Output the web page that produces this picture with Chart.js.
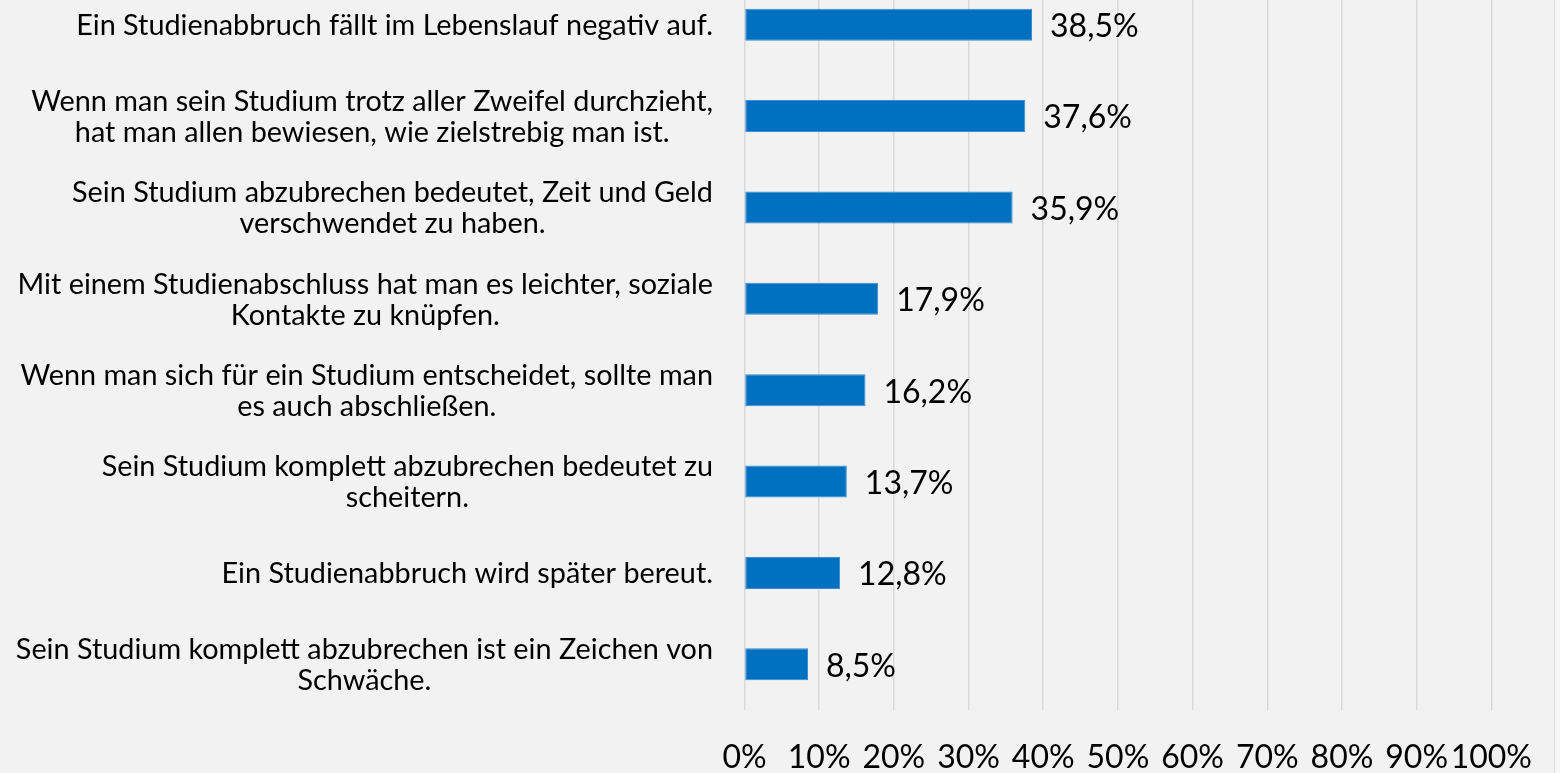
<!DOCTYPE html>
<html>
<head>
<meta charset="utf-8">
<script src="https://cdn.jsdelivr.net/npm/chart.js@4.4.0/dist/chart.umd.min.js"></script>
<style>
  html, body { margin: 0; padding: 0; background: #f2f2f2; overflow: hidden; width: 1560px; height: 773px; }
  #chart { position: absolute; left: 0; top: -21px; }
</style>
</head>
<body>
<canvas id="chart" width="1560" height="794"></canvas>
<script>
// Aussagen (Kategorien), jeweils mit Zeilenumbruch wie im Original
const categories = [
  ['Ein Studienabbruch fällt im Lebenslauf negativ auf.'],
  ['Wenn man sein Studium trotz aller Zweifel durchzieht,', 'hat man allen bewiesen, wie zielstrebig man ist.'],
  ['Sein Studium abzubrechen bedeutet, Zeit und Geld', 'verschwendet zu haben.'],
  ['Mit einem Studienabschluss hat man es leichter, soziale', 'Kontakte zu knüpfen.'],
  ['Wenn man sich für ein Studium entscheidet, sollte man', 'es auch abschließen.'],
  ['Sein Studium komplett abzubrechen bedeutet zu', 'scheitern.'],
  ['Ein Studienabbruch wird später bereut.'],
  ['Sein Studium komplett abzubrechen ist ein Zeichen von', 'Schwäche.']
];
const values = [38.5, 37.6, 35.9, 17.9, 16.2, 13.7, 12.8, 8.5];
const xTicks = [0, 10, 20, 30, 40, 50, 60, 70, 80, 90, 100];

const FONT = 'Lato, "Open Sans", sans-serif';
const fmt = v => v.toFixed(1).replace('.', ',') + '%';

// Rahmenlinie rechts (Diagrammrand)
const frame = {
  id: 'frame',
  beforeDraw(chart) {
    const ctx = chart.ctx;
    ctx.save();
    ctx.fillStyle = '#f7f7f7';
    ctx.fillRect(1555, 0, 5, chart.height);
    ctx.strokeStyle = '#dcdcdc';
    ctx.lineWidth = 1;
    ctx.beginPath();
    ctx.moveTo(1554.5, 0);
    ctx.lineTo(1554.5, chart.height);
    ctx.stroke();
    ctx.restore();
  }
};

// Kategorie-Beschriftungen: Block rechtsbündig, Zeilen darin zentriert
const categoryLabels = {
  id: 'categoryLabels',
  afterDraw(chart) {
    const ctx = chart.ctx;
    const meta = chart.getDatasetMeta(0);
    const right = chart.chartArea.left - 31.5;
    ctx.save();
    ctx.font = '28.8px ' + FONT;
    ctx.fillStyle = '#000';
    ctx.textAlign = 'center';
    ctx.textBaseline = 'middle';
    categories.forEach((lines, i) => {
      const bar = meta.data[i];
      const w = Math.max(...lines.map(l => ctx.measureText(l).width));
      const cx = right - w / 2;
      lines.forEach((l, j) => {
        ctx.fillText(l, cx, bar.y + 1 + (j - (lines.length - 1) / 2) * 31);
      });
    });
    ctx.restore();
  }
};

// Werte rechts neben den Balken
const valueLabels = {
  id: 'valueLabels',
  afterDatasetsDraw(chart) {
    const ctx = chart.ctx;
    const meta = chart.getDatasetMeta(0);
    ctx.save();
    ctx.font = '32px ' + FONT;
    ctx.fillStyle = '#000';
    ctx.textAlign = 'left';
    ctx.textBaseline = 'middle';
    meta.data.forEach((bar, i) => {
      ctx.fillText(fmt(values[i]), bar.x + 18, bar.y + 2);
    });
    ctx.restore();
  }
};

new Chart(document.getElementById('chart'), {
  type: 'bar',
  data: {
    labels: categories,
    datasets: [{
      data: values,
      backgroundColor: '#0070c0',
      borderColor: '#3a8ad0',
      borderWidth: 1,
      borderSkipped: false,
      barPercentage: 0.35,
      categoryPercentage: 1
    }]
  },
  options: {
    indexAxis: 'y',
    responsive: false,
    animation: false,
    layout: { padding: { left: 744.5, right: 65.5, top: 0, bottom: 0 } },
    plugins: {
      legend: { display: false },
      tooltip: { enabled: false }
    },
    scales: {
      x: {
        min: 0,
        max: 100,
        afterBuildTicks: s => { s.ticks = xTicks.map(v => ({ value: v })); },
        afterFit: s => { s.height = 63; },
        ticks: {
          padding: 28,
          color: '#000',
          font: { family: FONT, size: 32 },
          callback: v => v + '%',
          maxRotation: 0,
          autoSkip: false
        },
        grid: { color: '#d9d9d9', lineWidth: 1.5, drawTicks: false },
        border: { display: false }
      },
      y: {
        display: false
      }
    }
  },
  plugins: [frame, categoryLabels, valueLabels]
});
</script>
</body>
</html>
